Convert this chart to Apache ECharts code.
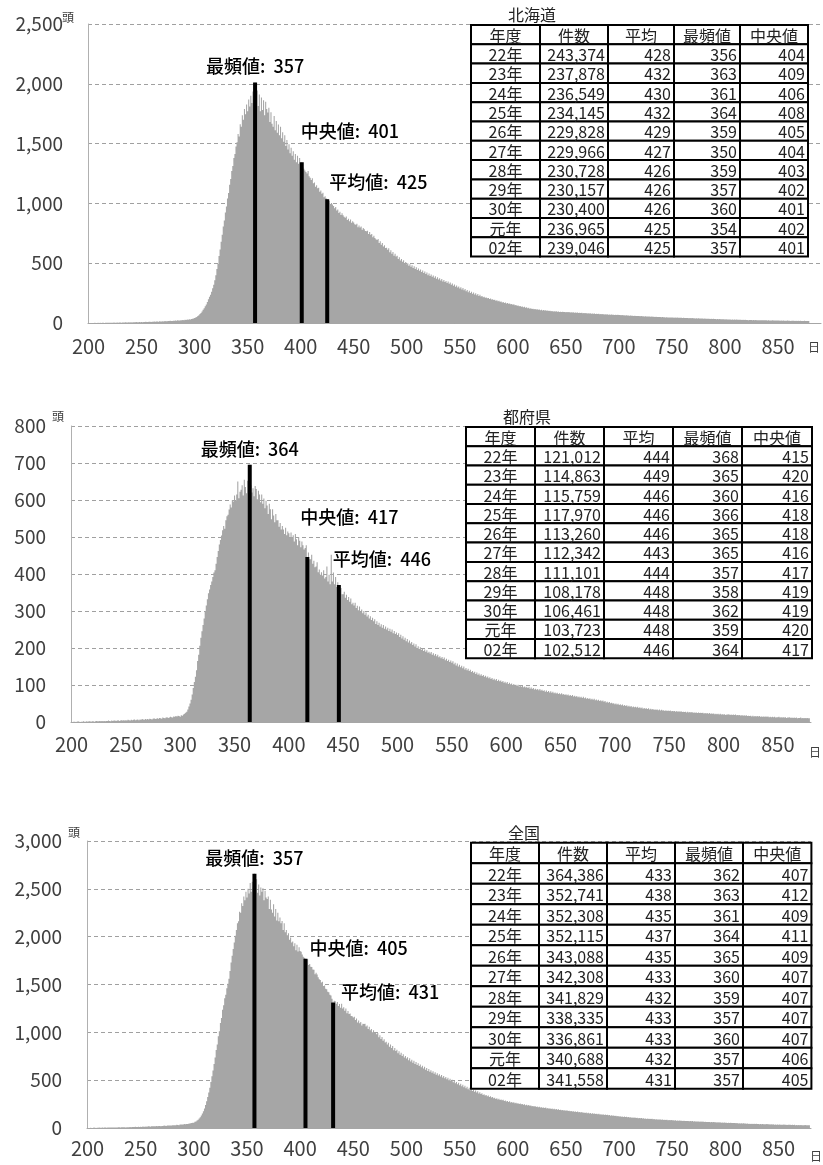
<!DOCTYPE html>
<html><head><meta charset="utf-8">
<script src="https://cdn.jsdelivr.net/npm/echarts@6/dist/echarts.min.js"></script>
<style>html,body{margin:0;padding:0;background:#fff}#c{width:823px;height:1165px}</style>
</head><body><div id="c"></div>
<script>
// ---------------- data ----------------
const DAY_FIRST = 200;            // first day of the histogram
const tickDays = [200,250,300,350,400,450,500,550,600,650,700,750,800,850];

// 北海道: head count per day (200..879)
const hokkaidoCounts = [
0,1,0,1,1,0,2,1,1,2, 1,2,1,2,2,1,3,2,2,3, 2,3,3,2,4,3,3,4,3,5, 4,3,5,4,5,6,4,5,6,5,
6,5,7,6,7,8,6,7,8,7, 8,7,9,8,10,9,8,11,10,9, 11,10,12,11,13,12,11,14,13,12, 14,13,16,15,14,17,16,18,17,16,
19,18,20,19,22,21,20,24,23,25, 24,27,26,29,28,31,30,34,36,38,
42,47,51,58,64,75,84,96,110,124, 140,155,175,198,220,236,262,290,320,358,
400,452,494,560,615,680,738,806,858,924, 975,1042,1088,1156,1204,1270,1312,1380,1412,1476,
1512,1580,1560,1662,1640,1738,1700,1790,1745,1826, 1770,1868,1810,1900,1840,1935,1870,2010,1830,1945,
1815,1910,1770,1885,1780,1862,1738,1850,1790,1760, 1800,1680,1762,1666,1640,1730,1612,1690,1590,1660,
1570,1640,1545,1594,1515,1570,1480,1530,1450,1494, 1420,1466,1398,1436,1366,1414,1345,1398,1332,1380,
1340,1345,1302,1290,1275,1262,1250,1270,1226,1215, 1196,1210,1168,1175,1140,1152,1126,1130,1098,1108,
1080,1090,1052,1060,1044,1035,1008,1022,994,1004, 990,978,960,970,940,948,920,930,902,918,
900,888,880,890,862,872,850,866,838,850, 840,826,822,830,800,815,798,806,780,795,
784,770,768,772,745,760,738,744,716,730, 710,700,694,702,668,684,654,668,640,650,
628,630,612,624,592,608,580,594,562,578, 555,562,536,550,522,536,512,524,500,510,
492,500,478,492,470,482,460,474,452,466, 444,456,436,448,426,440,418,430,410,422,
400,414,394,406,386,398,378,390,370,382, 364,374,356,368,348,360,342,352,334,346,
328,338,320,330,312,322,304,314,296,306, 288,298,280,292,274,284,266,276,258,270,
250,262,244,254,238,248,232,242,226,236, 222,226,216,220,212,214,206,210,200,204,
196,198,192,194,186,190,182,186,178,180, 172,176,168,171,164,167,160,163,156,159,
152,156,148,151,144,147,140,143,136,139, 132,136,128,131,124,127,120,123,117,120,
115,118,112,114,110,112,107,110,105,108, 104,106,102,104,100,102,98,101,97,99,
96,98,94,96,93,95,92,94,91,93, 90,92,89,91,88,90,87,89,86,88,
85,87,84,86,83,85,82,84,81,83, 80,82,79,81,78,80,77,79,76,78,
75,77,74,76,73,75,72,74,71,73, 70,72,69,71,68,70,67,69,66,68,
66,67,65,66,64,65,63,64,62,63, 61,62,60,61,59,60,58,59,58,59,
57,58,56,57,55,56,54,55,54,55, 53,54,52,53,51,52,50,51,50,51,
49,50,48,49,47,48,46,47,46,47, 45,46,44,45,44,45,43,44,43,44,
42,43,41,42,41,42,40,41,40,41, 39,40,38,39,38,39,37,38,37,38,
36,37,35,36,35,36,34,35,34,35, 33,34,32,33,32,33,31,32,31,32,
30,31,29,30,29,30,28,29,28,29, 28,29,27,28,27,28,26,27,26,27,
25,26,24,25,25,26,24,25,24,25, 23,24,22,23,23,24,22,23,22,23,
21,22,20,21,21,22,20,21,20,21, 20,21,19,20,19,20,18,19,19,20,
18,19,17,18,18,19,17,18,17,18, 17,18,16,17,17,18,16,17,16,17
];

// 都府県
const prefectureCounts = [
1,0,1,1,0,1,2,1,0,1, 1,2,1,1,2,1,2,2,1,2, 2,1,2,3,2,2,3,2,3,2, 3,2,3,3,4,3,2,4,3,4,
4,3,4,5,3,4,5,4,5,4, 5,4,6,5,4,6,5,6,7,5, 6,7,5,7,6,8,7,6,8,7, 8,7,9,8,7,9,10,8,9,10,
9,11,10,9,12,11,10,12,13,11, 12,14,13,12,15,14,16,15,17,16,
14,18,17,20,22,25,28,34,42,50, 60,74,92,108,122,140,165,182,206,228,
245,262,280,300,315,332,348,358,370,380, 392,404,410,428,446,462,480,492,504,518,
530,522,545,556,560,574,588,580,600,596, 612,598,615,650,605,622,628,640,612,655,
635,618,652,624,695,640,620,632,610,638, 630,602,625,615,594,615,590,604,578,598,
585,562,590,575,548,575,558,540,562,545, 545,528,538,520,530,520,508,525,505,515,
510,498,512,500,505,488,508,494,478,500, 490,472,488,478,466,470,478,446,458,440,
440,452,428,436,418,420,432,405,412,398, 405,396,410,388,392,420,380,398,372,452,
380,404,372,392,365,378,370,358,362,345, 345,352,336,344,330,338,325,334,318,322,
315,322,308,314,302,312,298,304,294,300, 290,296,285,290,280,286,276,282,272,278,
265,272,262,268,258,264,255,262,252,258, 250,255,246,252,244,250,240,246,238,242,
235,240,230,236,226,232,222,228,218,224, 215,220,212,216,208,212,204,210,200,205,
197,202,195,198,192,196,190,194,187,190, 185,189,182,186,180,184,178,182,175,178,
172,176,170,174,167,171,165,168,162,166, 160,164,156,160,153,158,150,155,148,152,
145,150,142,146,140,144,138,141,135,138, 133,136,130,134,128,131,126,129,124,127,
122,125,120,123,118,121,116,119,114,117, 113,116,111,114,110,112,108,111,106,109,
105,108,103,106,102,104,100,103,99,101, 98,101,96,99,95,98,94,96,93,95,
92,95,90,93,89,92,88,90,87,89, 86,89,85,87,84,86,82,85,81,84,
80,83,79,82,78,80,77,79,76,78, 75,78,74,76,73,75,72,74,71,73,
70,73,69,71,68,70,67,69,66,68, 65,68,64,66,63,65,62,64,61,63,
60,63,59,61,58,60,57,59,56,58, 55,57,53,55,52,54,51,52,50,51,
48,50,47,49,46,48,45,47,44,46, 43,45,42,44,41,43,40,42,40,41,
39,41,38,40,37,39,36,38,36,37, 35,37,34,36,34,35,33,34,33,34,
32,34,31,33,31,32,30,32,30,31, 30,31,29,30,29,30,28,30,28,29,
28,29,27,28,27,28,26,28,26,27, 26,27,25,26,25,26,24,26,24,25,
24,25,23,24,23,24,22,24,22,23, 22,23,21,22,21,22,20,22,20,21,
20,21,19,20,20,21,19,20,19,20, 19,20,18,19,18,19,17,19,17,18,
17,18,16,17,16,17,15,17,15,16, 15,16,15,16,14,15,14,15,14,15,
14,15,13,14,13,14,13,14,12,13, 13,14,12,13,12,13,12,13,11,12,
12,13,11,12,11,12,11,12,10,11, 11,12,10,11,10,11,10,11,10,10
];

// 全国
const nationalCounts = [
1,1,1,2,1,1,4,2,1,3, 2,4,2,3,4,2,5,4,3,5, 4,4,5,5,6,5,6,6,6,7, 7,5,8,7,9,9,6,9,9,9,
10,8,11,11,10,12,11,11,13,11, 13,11,15,13,14,15,13,17,17,14, 17,17,17,18,19,20,18,20,21,19, 22,20,25,23,21,26,26,26,26,26,
28,29,30,28,34,32,30,36,36,36, 36,41,39,41,43,45,46,49,53,54,
56,65,68,78,86,100,112,130,152,174, 205,240,280,325,370,420,480,540,600,670,
738,815,872,958,1012,1098,1150,1236,1282,1356, 1392,1462,1508,1560,1640,1730,1800,1872,1940,2010,
2070,2140,2160,2260,2250,2350,2320,2420,2380,2470, 2410,2500,2450,2560,2470,2575,2505,2657,2480,2600,
2460,2545,2430,2515,2470,2505,2380,2480,2410,2395, 2420,2290,2385,2285,2250,2340,2210,2290,2170,2250,
2160,2200,2140,2165,2070,2140,2045,2070,2015,2035, 1968,1990,1940,1950,1900,1930,1858,1915,1845,1890,
1850,1843,1814,1790,1780,1768,1758,1764,1704,1715, 1686,1682,1656,1653,1606,1622,1604,1576,1556,1548,
1520,1530,1484,1490,1455,1450,1425,1420,1392,1385, 1350,1311,1330,1326,1300,1318,1276,1296,1258,1300,
1250,1262,1226,1248,1200,1222,1192,1196,1170,1168, 1154,1164,1128,1144,1104,1124,1094,1108,1072,1090,
1086,1090,1062,1072,1036,1058,1022,1034,1000,1022, 1000,996,979,992,948,970,930,950,912,928,
893,902,874,892,850,872,835,856,814,836, 805,817,782,802,766,786,752,770,738,752,
727,740,708,728,696,714,682,702,670,690, 659,676,648,664,634,652,622,640,610,627,
597,616,589,604,578,594,568,584,557,572, 549,563,538,554,528,544,520,534,509,524,
500,514,490,504,479,493,469,482,458,472, 448,462,436,452,427,442,416,431,406,422,
395,412,386,400,378,392,370,383,361,374, 355,362,346,354,340,345,332,339,324,331,
318,323,312,317,304,311,298,305,292,297, 289,294,283,288,278,282,272,279,266,273,
265,270,259,264,256,260,250,255,247,251, 244,249,238,243,235,240,232,236,227,231,
224,229,220,225,217,222,214,218,211,215, 208,213,205,209,202,206,198,203,195,200,
193,198,190,195,188,192,185,189,182,186, 180,185,177,181,175,179,172,176,169,173,
167,172,164,168,162,166,159,163,157,161, 155,160,152,156,150,154,148,152,146,150,
144,149,141,145,139,143,137,141,135,139, 133,137,129,133,127,131,125,128,123,126,
120,124,118,121,116,119,114,117,112,115, 110,113,108,111,106,109,104,107,103,105,
101,104,99,102,97,100,95,98,95,97, 93,96,91,94,90,92,88,90,88,90,
86,89,84,87,83,85,81,84,81,83, 80,82,78,80,77,79,75,78,75,77,
74,76,72,74,72,74,70,73,70,72, 69,71,67,69,67,69,65,68,65,67,
64,66,62,64,62,64,60,63,60,62, 59,61,57,59,57,59,55,58,55,57,
54,56,52,54,53,55,51,53,51,53, 50,52,48,50,48,50,46,49,46,48,
45,47,43,45,43,45,41,44,42,44, 41,43,40,42,39,41,38,40,39,41,
38,40,36,38,36,38,35,37,35,37, 35,37,33,35,34,36,33,35,32,34,
33,35,31,33,31,33,30,32,30,32, 30,32,28,30,29,31,28,30,28,28
];

// tables
const tableHeader = ['年度','件数','平均','最頻値','中央値'];
const fiscalYears = ['22年','23年','24年','25年','26年','27年','28年','29年','30年','元年','02年'];

const hkCases   = [243374,237878,236549,234145,229828,229966,230728,230157,230400,236965,239046];
const hkMean    = [428,432,430,432,429,427,426,426,426,425,425];
const hkMode    = [356,363,361,364,359,350,359,357,360,354,357];
const hkMedian  = [404,409,406,408,405,404,403,402,401,402,401];

const pfCases   = [121012,114863,115759,117970,113260,112342,111101,108178,106461,103723,102512];
const pfMean    = [444,449,446,446,446,443,444,448,448,448,446];
const pfMode    = [368,365,360,366,365,365,357,358,362,359,364];
const pfMedian  = [415,420,416,418,418,416,417,419,419,420,417];

const jpCases   = [364386,352741,352308,352115,343088,342308,341829,338335,336861,340688,341558];
const jpMean    = [433,438,435,437,435,433,432,433,433,432,431];
const jpMode    = [362,363,361,364,365,360,359,357,360,357,357];
const jpMedian  = [407,412,409,411,409,407,407,407,407,406,405];

// ---------------- layout ----------------
const FONT = '"Noto Sans CJK JP", "Noto Sans", sans-serif';
const panels = [
  { title:'北海道', counts:hokkaidoCounts, lastCat:890, yMax:2500, yStep:500,
    cases:hkCases, mean:hkMean, mode:hkMode, median:hkMedian,
    grid:{left:88, top:24, width:733, height:299}, xMargin:13,
    table:{left:471, top:25, colW:[69,68,66,66,68], rowH:19.3},
    unitY:[68,17], unitX:[814,347],
    lab:{mode:[0,7], median:[-1,22], mean:[2,8]} },
  { title:'都府県', counts:prefectureCounts, lastCat:880, yMax:800, yStep:100,
    cases:pfCases, mean:pfMean, mode:pfMode, median:pfMedian,
    grid:{left:71, top:426, width:740, height:296}, xMargin:12,
    table:{left:466, top:427, colW:[69,69,69,69,70], rowH:19.27},
    unitY:[58,416], unitX:[815,752],
    lab:{mode:[0,7], median:[-7,31], mean:[-6,17]} },
  { title:'全国', counts:nationalCounts, lastCat:880, yMax:3000, yStep:500,
    cases:jpCases, mean:jpMean, mode:jpMode, median:jpMedian,
    grid:{left:87, top:841, width:724, height:287}, xMargin:10,
    table:{left:471, top:842.7, colW:[68,68,68,68,68.4], rowH:20.5},
    unitY:[74,832], unitX:[816,1156],
    lab:{mode:[0,7], median:[4,2], mean:[8,1]} }
];

const grid = [], xAxis = [], yAxis = [], series = [], graphic = [];
panels.forEach((p, i) => {
  const cats = [];
  for (let d = DAY_FIRST; d <= p.lastCat; d++) cats.push(String(d));
  grid.push(Object.assign({containLabel:false}, p.grid));
  xAxis.push({
    type:'category', gridIndex:i, data:cats, boundaryGap:true,
    axisTick:{show:false},
    axisLine:{lineStyle:{color:'#a6a6a6', width:1}},
    axisLabel:{ interval:(idx, v) => tickDays.includes(+v), margin:p.xMargin,
      color:'#404040', fontSize:20, fontFamily:FONT },
    splitLine:{show:false}
  });
  xAxis.push({ type:'category', gridIndex:i, data:cats, show:false });
  yAxis.push({
    type:'value', gridIndex:i, min:0, max:p.yMax, interval:p.yStep,
    axisLine:{show:true, lineStyle:{color:'#b0b0b0', width:1}},
    axisTick:{show:false},
    axisLabel:{ margin:25, color:'#404040', fontSize:19, fontFamily:FONT,
      formatter:v => v.toLocaleString('en-US') },
    splitLine:{show:true, lineStyle:{color:'#a0a0a0', type:[4,3], width:1}}
  });
  series.push({
    type:'bar', xAxisIndex:2*i, yAxisIndex:i, data:p.counts,
    barCategoryGap:'0%', large:true, largeThreshold:100,
    itemStyle:{color:'#a6a6a6'}, silent:true, animation:false
  });
  // black marker bars at mode / median / mean of latest year (02年)
  const last = p.mode.length - 1;
  const marks = [
    {day:p.mode[last],   text:'最頻値:  ' + p.mode[last],   k:'mode'},
    {day:p.median[last], text:'中央値:  ' + p.median[last], k:'median'},
    {day:p.mean[last],   text:'平均値:  ' + p.mean[last],   k:'mean'}
  ];
  const markData = cats.map(() => '-');
  marks.forEach(m => {
    const idx = m.day - DAY_FIRST;
    const o = p.lab[m.k];
    markData[idx] = { value:p.counts[idx], label:{
      show:true, formatter:m.text, position:'top',
      align: m.k === 'mode' ? 'center' : 'left',
      distance:o[1], offset:[o[0], 0],
      color:'#000', fontSize:18, fontFamily:FONT, fontWeight:500
    }};
  });
  series.push({
    type:'bar', xAxisIndex:2*i+1, yAxisIndex:i, data:markData, barWidth:4,
    itemStyle:{color:'#000'}, silent:true, animation:false, z:3
  });

  // unit labels
  graphic.push({type:'text', z:50, style:{text:'頭', x:p.unitY[0], y:p.unitY[1], align:'center', verticalAlign:'middle', font:'12px ' + FONT, fill:'#404040'}});
  graphic.push({type:'text', z:50, style:{text:'日', x:p.unitX[0], y:p.unitX[1], align:'center', verticalAlign:'middle', font:'12px ' + FONT, fill:'#404040'}});

  // table
  const t = p.table;
  const rows = [tableHeader].concat(fiscalYears.map((y, r) => [
    y, p.cases[r].toLocaleString('en-US'), String(p.mean[r]), String(p.mode[r]), String(p.median[r])
  ]));
  const texts = [];
  rows.forEach((row, r) => {
    let x = t.left;
    const y = t.top + r * t.rowH;
    row.forEach((cell, c) => {
      const w = t.colW[c];
      graphic.push({type:'rect', z:60, shape:{x:x, y:y, width:w, height:t.rowH},
        style:{fill:'#fff', stroke:'#000', lineWidth:2}});
      const num = r > 0 && c > 0;
      texts.push({type:'text', z:61, style:{text:cell,
        x: num ? x + w - 3 : x + w / 2, y: y + t.rowH / 2 + 1,
        align: num ? 'right' : 'center', verticalAlign:'middle',
        font:'16px ' + FONT, fill:'#222'}});
      x += w;
    });
  });
  graphic.push(...texts);
  graphic.push({type:'text', z:61, style:{text:p.title, x:t.left + 37, y:t.top - 10,
    align:'left', verticalAlign:'middle', font:'16px ' + FONT, fill:'#222'}});
});

const chart = echarts.init(document.getElementById('c'), null, {renderer:'canvas'});
chart.setOption({
  animation:false, backgroundColor:'#fff',
  textStyle:{fontFamily:FONT},
  grid, xAxis, yAxis, series, graphic
});
</script></body></html>
